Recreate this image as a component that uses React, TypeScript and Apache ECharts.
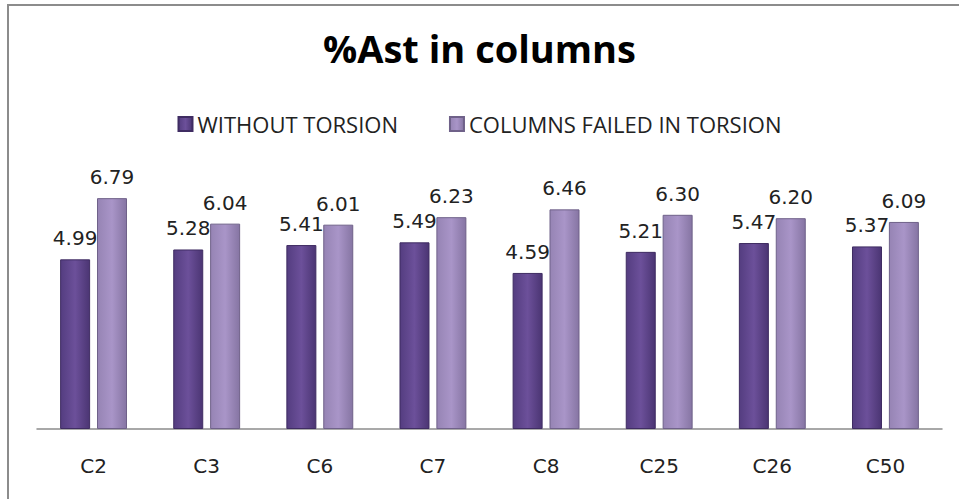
import React, { useEffect, useRef } from "react";
import * as echarts from "echarts";

const categories = ["C2", "C3", "C6", "C7", "C8", "C25", "C26", "C50"];
const withoutTorsion = [4.99, 5.28, 5.41, 5.49, 4.59, 5.21, 5.47, 5.37];
const failedInTorsion = [6.79, 6.04, 6.01, 6.23, 6.46, 6.3, 6.2, 6.09];
const seriesNames = ["WITHOUT TORSION", "COLUMNS FAILED IN TORSION"];
const titleText = "%Ast in columns";

export default function App() {
  const ref = useRef<HTMLDivElement>(null);
  useEffect(() => {
    if (!ref.current) return;
    const chart = echarts.init(ref.current, null, { renderer: "svg" });
    const darkFill = new echarts.graphic.LinearGradient(0, 0, 1, 0, [
      { offset: 0, color: "#543d80" },
      { offset: 0.5, color: "#6c509a" },
      { offset: 1, color: "#4b3573" },
    ]);
    const lightFill = new echarts.graphic.LinearGradient(0, 0, 1, 0, [
      { offset: 0, color: "#9684b4" },
      { offset: 0.5, color: "#a995c8" },
      { offset: 1, color: "#8675a3" },
    ]);
    const labelStyle = {
      show: true,
      position: "top" as const,
      distance: 11,
      fontFamily: "DejaVu Sans",
      fontSize: 20,
      color: "#222222",
      formatter: (p: any) => Number(p.value).toFixed(2),
    };
    chart.setOption({
      animation: false,
      backgroundColor: "#ffffff",
      title: {
        text: titleText,
        left: "center",
        top: 24,
        textStyle: {
          fontFamily: "Open Sans",
          fontWeight: "bold",
          fontSize: 38,
          color: "#000000",
        },
      },
      legend: {
        data: seriesNames,
        left: "center",
        top: 108,
        itemWidth: 14,
        itemHeight: 14,
        itemGap: 51,
        icon: "rect",
        textStyle: {
          fontFamily: "Open Sans",
          fontSize: 22,
          color: "#222222",
        },
      },
      grid: { left: 37, right: 17, top: 157, bottom: 70 },
      xAxis: {
        type: "category",
        data: categories,
        axisLine: { show: true, lineStyle: { color: "#8c8c8c", width: 1.5 } },
        axisTick: { show: false },
        axisLabel: {
          margin: 27,
          fontFamily: "DejaVu Sans",
          fontSize: 20,
          color: "#222222",
        },
      },
      yAxis: {
        type: "value",
        min: 0,
        max: 8,
        show: false,
        splitLine: { show: false },
      },
      graphic: [
        {
          type: "rect",
          shape: { x: 8, y: 5, width: 1200, height: 1000 },
          style: { fill: "none", stroke: "#8c8c8c", lineWidth: 2 },
          silent: true,
        },
      ],
      series: [
        {
          name: seriesNames[0],
          type: "bar",
          data: withoutTorsion,
          barWidth: 30,
          barGap: "23%",
          itemStyle: { color: darkFill, borderColor: "#3f2c62", borderWidth: 1 },
          label: labelStyle,
        },
        {
          name: seriesNames[1],
          type: "bar",
          data: failedInTorsion,
          barWidth: 30,
          itemStyle: { color: lightFill, borderColor: "#6f6189", borderWidth: 1 },
          label: labelStyle,
        },
      ],
    });
    return () => chart.dispose();
  }, []);
  return (
    <div
      ref={ref}
      style={{ position: "fixed", left: 0, top: 0, width: 959, height: 499 }}
    />
  );
}
